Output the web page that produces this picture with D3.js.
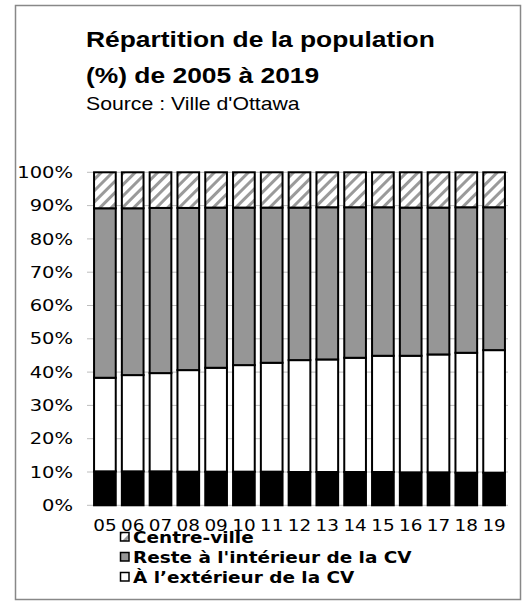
<!DOCTYPE html>
<html>
<head>
<meta charset="utf-8">
<script src="https://cdn.jsdelivr.net/npm/d3@7/dist/d3.min.js"></script>
<style>
  html, body { margin: 0; padding: 0; background: #fff; }
  svg { display: block; }
</style>
</head>
<body>
<svg id="chart" width="524" height="605"></svg>
<script>
// Years shown on the x axis (2005–2019)
const years = ["05","06","07","08","09","10","11","12","13","14","15","16","17","18","19"];

// Share of population (%) per zone, bottom of the stack first
const rural      = [10.2,10.2,10.2,10.1,10.1,10.1,10.1,10.0,10.0,10.0,10.0,9.9,9.9,9.8,9.8];
const exterieur  = [28.1,28.9,29.5,30.5,31.2,32.0,32.7,33.6,33.8,34.3,34.9,35.0,35.4,36.0,36.8];
const resteCV    = [50.9,50.1,49.6,48.7,48.1,47.3,46.6,45.8,45.7,45.2,44.6,44.5,44.1,43.7,42.9];
const centreVille= [10.8,10.8,10.7,10.7,10.6,10.6,10.6,10.6,10.5,10.5,10.5,10.6,10.6,10.5,10.5];

const yTicks = [0,10,20,30,40,50,60,70,80,90,100];

const seriesNames = ["rural", "exterieur", "resteCV", "centreVille"];
const rows = years.map((y, i) => ({
  year: y,
  rural: rural[i],
  exterieur: exterieur[i],
  resteCV: resteCV[i],
  centreVille: centreVille[i]
}));

const svg = d3.select("#chart");
const SANS = "Liberation Sans, Arial, sans-serif";
const VERD = "DejaVu Sans, Verdana, sans-serif";

// Outer frame
svg.append("rect")
  .attr("x", 15.5).attr("y", 5.5)
  .attr("width", 505).attr("height", 594)
  .attr("fill", "#fff").attr("stroke", "#888").attr("stroke-width", 1.5);

// Diagonal hatch for the city-centre segment
const defs = svg.append("defs");
const pat = defs.append("pattern")
  .attr("id", "hatch")
  .attr("patternUnits", "userSpaceOnUse")
  .attr("width", 8).attr("height", 8)
  .attr("patternTransform", "rotate(45)");
pat.append("rect").attr("width", 8).attr("height", 8).attr("fill", "#fff");
pat.append("rect").attr("x", 0).attr("y", 0).attr("width", 3).attr("height", 8).attr("fill", "#9a9a9a");

// Wide text: glyphs stretched horizontally around their anchor point
function wideText(parent, x0, y0, sx, str) {
  return parent.append("text")
    .attr("transform", `translate(${x0},${y0}) scale(${sx},1)`)
    .text(str);
}

// Titles
wideText(svg, 86, 47, 1.2, "Répartition de la population")
  .attr("font-family", SANS).attr("font-weight", "bold").attr("font-size", 22);
wideText(svg, 86, 83, 1.2, "(%) de 2005 à 2019")
  .attr("font-family", SANS).attr("font-weight", "bold").attr("font-size", 22);
wideText(svg, 86, 110, 1.18, "Source : Ville d'Ottawa")
  .attr("font-family", SANS).attr("font-size", 18);

// Scales
const x = d3.scaleBand().domain(years).range([91, 508]).paddingInner(0.22).paddingOuter(0.11);
const y = d3.scaleLinear().domain([0, 100]).range([505.3, 172.3]);

// Gridlines
svg.append("g")
  .selectAll("line")
  .data(yTicks)
  .join("line")
  .attr("x1", 87).attr("x2", 508)
  .attr("y1", d => y(d)).attr("y2", d => y(d))
  .attr("stroke", "#bdbdbd").attr("stroke-width", 1);

// Y axis labels
const yAxis = d3.axisLeft(y).tickValues(yTicks).tickSize(0).tickPadding(0).tickFormat(d => d + "%");
const gy = svg.append("g").attr("transform", "translate(73,0) scale(1.22,1)").call(yAxis);
gy.select(".domain").remove();
gy.selectAll("text")
  .attr("font-family", VERD)
  .attr("font-size", 16).attr("fill", "#000");

// X axis labels
const xAxis = d3.axisBottom(x).tickSize(0).tickPadding(0);
const gx = svg.append("g").attr("transform", "translate(0,520)").call(xAxis);
gx.select(".domain").remove();
gx.selectAll("text")
  .attr("transform", "scale(1.15,1)")
  .attr("font-family", VERD)
  .attr("font-size", 16).attr("fill", "#000");

// Stacked bars
const stack = d3.stack().keys(seriesNames);
const layers = stack(rows);
const fills = { rural: "#000", exterieur: "#fff", resteCV: "#969696", centreVille: "url(#hatch)" };

svg.append("g")
  .selectAll("g")
  .data(layers)
  .join("g")
  .attr("fill", d => fills[d.key])
  .selectAll("rect")
  .data(d => d)
  .join("rect")
  .attr("x", d => x(d.data.year))
  .attr("width", x.bandwidth())
  .attr("y", d => y(d[1]))
  .attr("height", d => y(d[0]) - y(d[1]))
  .attr("stroke", "#000").attr("stroke-width", 2);

// Legend
const legendItems = [
  { label: "Centre-ville", fill: "url(#hatch)" },
  { label: "Reste à l'intérieur de la CV", fill: "#969696" },
  { label: "À l’extérieur de la CV", fill: "#fff" }
];
const lg = svg.append("g").selectAll("g").data(legendItems).join("g")
  .attr("transform", (d, i) => `translate(120,${543 + i * 20})`);
lg.append("rect")
  .attr("x", 0.5).attr("y", -10.5).attr("width", 8.5).attr("height", 8.5)
  .attr("fill", d => d.fill).attr("stroke", "#000").attr("stroke-width", 1.5);
lg.append("text")
  .attr("transform", "translate(13,0) scale(1.23,1)")
  .attr("font-family", VERD)
  .attr("font-weight", "bold").attr("font-size", 15)
  .text(d => d.label);
</script>
</body>
</html>
